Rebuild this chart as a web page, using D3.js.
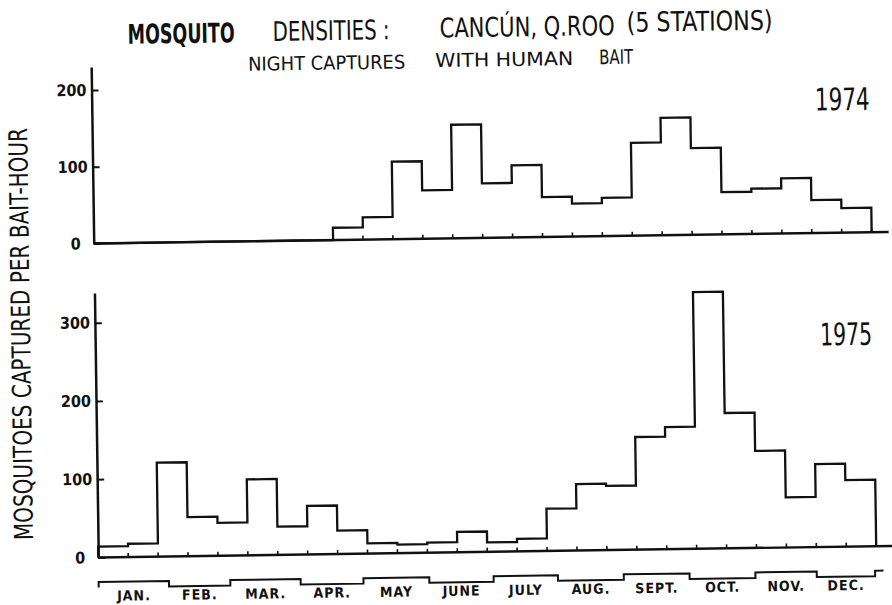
<!DOCTYPE html>
<html>
<head>
<meta charset="utf-8">
<script src="https://cdn.jsdelivr.net/npm/d3@7"></script>
<style>
  body { margin: 0; background: #fff; }
  text { fill: #111; font-family: "DejaVu Sans Condensed", "Liberation Sans Narrow", "DejaVu Sans", sans-serif; }
</style>
</head>
<body>
<div id="chart"></div>
<script>
// mosquitoes per bait-hour, 26 two-week periods per year
var captures1974 = [0, 0, 0, 0, 0, 0, 0, 0, 16, 29, 101, 63, 148, 71, 94, 52, 43, 50, 121, 153, 113, 55, 59, 72, 43, 32];
var captures1975 = [14, 17, 120, 50, 42, 97, 36, 62, 30, 13, 11, 13, 26, 12, 16, 54, 85, 82, 144, 156, 328, 173, 124, 64, 106, 85];
var months = ["JAN.", "FEB.", "MAR.", "APR.", "MAY", "JUNE", "JULY", "AUG.", "SEPT.", "OCT.", "NOV.", "DEC."];
// where each month starts, counted in two-week periods
var monthEdges = [0, 2.35, 4.4, 6.75, 8.85, 11.05, 13.2, 15.35, 17.55, 19.75, 21.95, 24.0, 25.95];
var ticks1974 = [0, 100, 200];
var ticks1975 = [0, 100, 200, 300];

var width = 892, height = 605;

var svg = d3.select("#chart")
  .append("svg")
    .attr("width", width)
    .attr("height", height);

// the scanned sheet sits slightly askew
var g = svg.append("g")
    .attr("transform", "rotate(-0.83,95,400)");

var x = d3.scaleLinear()
  .domain([0, 26])
  .range([96, 874]);

var yTop = d3.scaleLinear()
  .domain([0, 230])
  .range([243.5, 67]);

var yBottom = d3.scaleLinear()
  .domain([0, 338])
  .range([557.5, 293]);

function drawPanel(values, y, ticks) {
  var n = values.length;
  var pts = [[0, 0]].concat(values.map(function(v, i) { return [i, v]; }));
  pts.push([n, values[n - 1]]);
  pts.push([n, 0]);

  // small marks on the baseline between periods
  var marks = d3.range(1, n + 1).filter(function(i) {
    return values[i - 1] > 0 || (i < n && values[i] > 0);
  });
  g.selectAll(null)
    .data(marks)
    .enter().append("line")
      .attr("x1", function(d) { return x(d); })
      .attr("x2", function(d) { return x(d); })
      .attr("y1", y(0))
      .attr("y2", y(0) - 4)
      .attr("stroke", "#111")
      .attr("stroke-width", 1.6);

  g.append("line")
    .attr("x1", x(0))
    .attr("x2", 891)
    .attr("y1", y(0))
    .attr("y2", y(0))
    .attr("stroke", "#111")
    .attr("stroke-width", 2.4);

  g.append("path")
    .datum(pts)
    .attr("fill", "none")
    .attr("stroke", "#111")
    .attr("stroke-width", 2.3)
    .attr("d", d3.line()
      .curve(d3.curveStepAfter)
      .x(function(d) { return x(d[0]); })
      .y(function(d) { return y(d[1]); })
    );

  var axis = g.append("g")
    .attr("transform", "translate(" + x(0) + ",0)")
    .call(d3.axisLeft(y).tickValues(ticks).tickSize(-7).tickSizeOuter(0).tickPadding(5));
  axis.select(".domain").attr("stroke", "#111").attr("stroke-width", 2.5);
  axis.selectAll(".tick line").attr("stroke", "#111").attr("stroke-width", 2);
  axis.selectAll(".tick text")
    .attr("fill", "#111")
    .style("font-size", "16px")
    .style("font-weight", "bold")
    .attr("dx", function(d) { return d === 0 ? -8 : 0; });
}

drawPanel(captures1974, yTop, ticks1974);
drawPanel(captures1975, yBottom, ticks1975);

// year labels
g.append("text")
  .attr("x", 819).attr("y", 121)
  .attr("textLength", 55).attr("lengthAdjust", "spacingAndGlyphs")
  .style("font-size", "31px")
  .text("1974");
g.append("text")
  .attr("x", 821).attr("y", 356)
  .attr("textLength", 52).attr("lengthAdjust", "spacingAndGlyphs")
  .style("font-size", "31px")
  .text("1975");

// calendar strip along the bottom
var high = 582, low = 587.5;
var strip = [[0, low], [0, high]];
monthEdges.forEach(function(e, i) {
  if (i > 0) strip.push([e, i % 2 === 0 ? high : low]);
});
strip.push([26.2, high - 1]);
g.append("path")
  .datum(strip)
  .attr("fill", "none")
  .attr("stroke", "#111")
  .attr("stroke-width", 2)
  .attr("d", d3.line()
    .curve(d3.curveStepAfter)
    .x(function(d) { return x(d[0]); })
    .y(function(d) { return d[1]; })
  );

g.selectAll(".month")
  .data(months)
  .enter().append("text")
    .attr("class", "month")
    .attr("x", function(d, i) { return x((monthEdges[i] + monthEdges[i + 1]) / 2); })
    .attr("y", 601)
    .attr("text-anchor", "middle")
    .style("font-size", "14px")
    .style("font-weight", "bold")
    .style("letter-spacing", "1px")
    .text(function(d) { return d; });

// y axis title
g.append("text")
  .attr("transform", "translate(31,333) rotate(-90)")
  .attr("text-anchor", "middle")
  .attr("textLength", 412).attr("lengthAdjust", "spacingAndGlyphs")
  .style("font-size", "26px")
  .text("MOSQUITOES  CAPTURED  PER  BAIT-HOUR");

// titles
var titleParts = [
  {t: "MOSQUITO", x: 133, w: 107, y: 44.3, s: 27, b: "bold"},
  {t: "DENSITIES :", x: 278, w: 117, y: 43.5, s: 27, b: "normal"},
  {t: "CANCÚN, Q.ROO", x: 445, w: 175, y: 42.5, s: 27, b: "normal"},
  {t: "(5 STATIONS)", x: 632, w: 146, y: 39.5, s: 27, b: "normal"},
  {t: "NIGHT CAPTURES", x: 253, w: 157, y: 73, s: 19, b: "normal"},
  {t: "WITH HUMAN", x: 440, w: 138, y: 72, s: 19, b: "normal"},
  {t: "BAIT", x: 604, w: 34, y: 71.5, s: 20, b: "normal"}
];
g.selectAll(".title")
  .data(titleParts)
  .enter().append("text")
    .attr("class", "title")
    .attr("x", function(d) { return d.x; })
    .attr("y", function(d) { return d.y; })
    .attr("textLength", function(d) { return d.w; })
    .attr("lengthAdjust", "spacingAndGlyphs")
    .style("font-size", function(d) { return d.s + "px"; })
    .style("font-weight", function(d) { return d.b; })
    .text(function(d) { return d.t; });
</script>
</body>
</html>
